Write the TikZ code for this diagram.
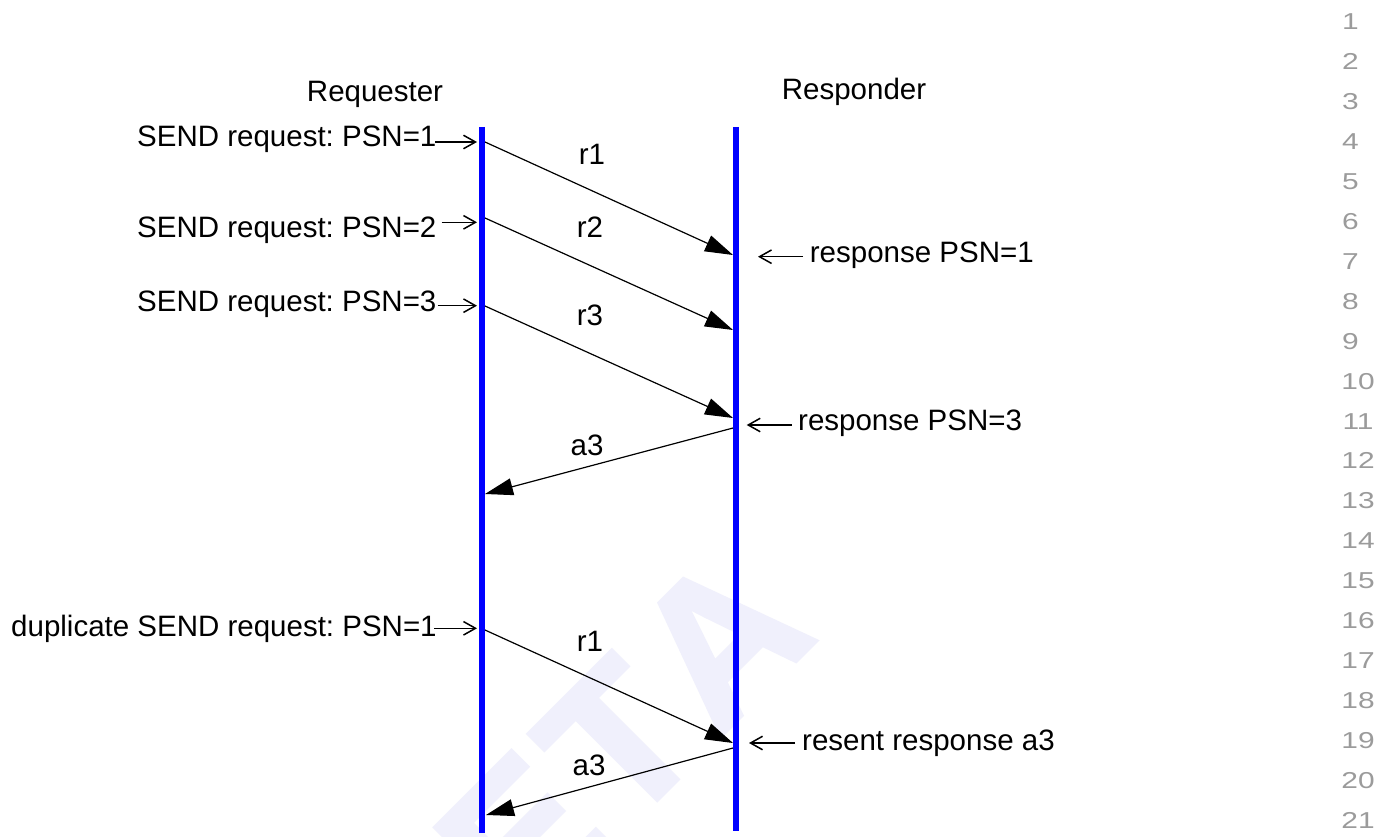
\documentclass[tikz,border=0pt]{standalone}
\usepackage{fontspec}
\setmainfont{Liberation Sans}
\newfontfamily\numfont[FakeStretch=1.3]{Liberation Sans}
\newfontfamily\wmfont[FakeBold=2,LetterSpace=5,Kerning=Off]{Liberation Sans}
\usetikzlibrary{arrows.meta}
\definecolor{lifeblue}{RGB}{0,0,255}
\definecolor{wmark}{RGB}{240,240,252}
\definecolor{numgray}{RGB}{155,155,155}
\frenchspacing
\begin{document}
\begin{tikzpicture}[x=1pt,y=-1pt,
  lbl/.style={font=\fontsize{29.5}{34}\selectfont, inner sep=0pt, text=black},
  lifeline/.style={draw=lifeblue, line width=6pt},
  msg/.style={draw=black, line width=1.2pt, -{Triangle[length=28pt,width=17pt]}},
  note/.style={draw=black, line width=1.5pt, -{Straight Barb[length=12pt,width=13.5pt]}},
  lnum/.style={font=\numfont\fontsize{23}{27}\selectfont, text=numgray, inner sep=0pt, anchor=base},
  wm/.style={font=\wmfont\fontsize{200}{220}\selectfont\bfseries, text=wmark, inner sep=0pt}]
\useasboundingbox (0,0) rectangle (1388,837);
\fill[white] (0,0) rectangle (1388,837);
% watermark
\begin{scope}
\clip (0,0) rectangle (1388,837);
\node[wm, anchor=base east, rotate=45] (wmark) at (820,637) {BETA};
\end{scope}
% headers
\node[lbl, anchor=base] (req) at (375,102) {Requester};
\node[lbl, anchor=base] (resp) at (854,100) {Responder};
% lifelines
\coordinate (Ltop) at (482,127);
\coordinate (Lbot) at (482,833);
\coordinate (Rtop) at (735.5,127);
\coordinate (Rbot) at (735.5,831);
\draw[lifeline] (Ltop) -- (Lbot);
\draw[lifeline] (Rtop) -- (Rbot);
% message endpoints
\coordinate (s1) at (485,142);  \coordinate (e1) at (733,255);
\coordinate (s2) at (485,218);  \coordinate (e2) at (733,330);
\coordinate (s3) at (485,306);  \coordinate (e3) at (733,418);
\coordinate (s4) at (733,428);  \coordinate (e4) at (485,494);
\coordinate (s5) at (485,630);  \coordinate (e5) at (733,743);
\coordinate (s6) at (733,748);  \coordinate (e6) at (486,815);
\draw[msg] (s1) -- (e1);
\draw[msg] (s2) -- (e2);
\draw[msg] (s3) -- (e3);
\draw[msg] (s4) -- (e4);
\draw[msg] (s5) -- (e5);
\draw[msg] (s6) -- (e6);
% message labels
\node[lbl, anchor=base] (lr1) at (592,165) {r1};
\node[lbl, anchor=base] (lr2) at (590,237) {r2};
\node[lbl, anchor=base] (lr3) at (590,325) {r3};
\node[lbl, anchor=base] (la3) at (587,455) {a3};
\node[lbl, anchor=base] (lr1b) at (590,651) {r1};
\node[lbl, anchor=base] (la3b) at (589,775) {a3};
% requester side notes
\node[lbl, anchor=base west] (q1) at (137,147) {SEND request: PSN=1};
\coordinate (q1a) at (435,142); \coordinate (q1b) at (477,142);
\draw[note] (q1a) -- (q1b);
\node[lbl, anchor=base west] (q2) at (137,237.3) {SEND request: PSN=2};
\coordinate (q2a) at (441.7,222.3); \coordinate (q2b) at (477,222.3);
\draw[note] (q2a) -- (q2b);
\node[lbl, anchor=base west] (q3) at (137,311.7) {SEND request: PSN=3};
\coordinate (q3a) at (437.7,305.7); \coordinate (q3b) at (477,305.7);
\draw[note] (q3a) -- (q3b);
\node[lbl, anchor=base west] (q4) at (11,636.7) {duplicate SEND request: PSN=1};
\coordinate (q4a) at (434,628.3); \coordinate (q4b) at (477,628.3);
\draw[note] (q4a) -- (q4b);
% responder side notes
\node[lbl, anchor=base west] (p1) at (809.7,262.7) {response PSN=1};
\coordinate (p1a) at (803,256.7); \coordinate (p1b) at (758,256.7);
\draw[note] (p1a) -- (p1b);
\node[lbl, anchor=base west] (p2) at (798,430) {response PSN=3};
\coordinate (p2a) at (791.7,425); \coordinate (p2b) at (746.7,425);
\draw[note] (p2a) -- (p2b);
\node[lbl, anchor=base west] (p3) at (802,750) {resent response a3};
\coordinate (p3a) at (795,743); \coordinate (p3b) at (749,743);
\draw[note] (p3a) -- (p3b);
% line numbers
\foreach \n in {1,...,9} {
  \node[lnum] (ln\n) at (1350.5,{30+(\n-1)*39.9}) {\n};
}
\foreach \n in {10,...,21} {
  \node[lnum] (ln\n) at (1358,{30+(\n-1)*39.9}) {\n};
}
\end{tikzpicture}
\end{document}
